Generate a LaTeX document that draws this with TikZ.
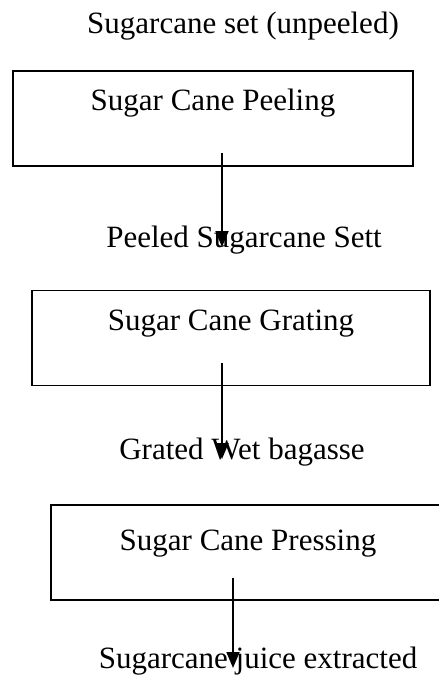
\documentclass[tikz,border=0pt]{standalone}
\usepackage{fontspec}
\setmainfont{Liberation Serif}
\usetikzlibrary{arrows.meta, positioning}

\begin{document}
\begin{tikzpicture}[
    x=1pt, y=-1pt,
    every node/.style={font=\fontsize{31}{37}\selectfont},
    stepbox/.style={rectangle, draw, line width=1.8pt, inner sep=0pt,
                    minimum height=95pt, align=center},
    flowtext/.style={anchor=base, inner sep=0pt},
    flow/.style={draw, line width=1.8pt, -{Triangle[length=16pt, width=13pt]}}
]
\useasboundingbox (0,0) rectangle (439,686);
\clip (0,0) rectangle (439,686);

% Input
\node[flowtext] (unpeeled) at (243, 33) {Sugarcane set (unpeeled)};

% Step 1: Peeling
\node[stepbox, minimum width=400pt, text height=39pt, text depth=56pt] (peeling) at (213, 118.5) {Sugar Cane Peeling};
\node[flowtext] (sett) at (244, 247) {Peeled Sugarcane Sett};
\coordinate (p1) at (222, 153);
\draw[flow] (p1) -- (p1 |- sett.base);

% Step 2: Grating
\node[stepbox, minimum width=398pt, text height=39pt, text depth=55pt] (grating) at (231, 338) {Sugar Cane Grating};
\node[flowtext] (bagasse) at (242, 459) {Grated Wet bagasse};
\coordinate (p2) at (222, 363);
\draw[flow] (p2) -- (p2 |- bagasse.base);

% Step 3: Pressing
\node[stepbox, minimum width=394pt, text height=45pt, text depth=50pt] (pressing) at (248, 552.5) {Sugar Cane Pressing};
\node[flowtext] (juice) at (258, 668) {Sugarcane juice extracted};
\coordinate (p3) at (233, 578);
\draw[flow] (p3) -- (p3 |- juice.base);

\end{tikzpicture}
\end{document}
